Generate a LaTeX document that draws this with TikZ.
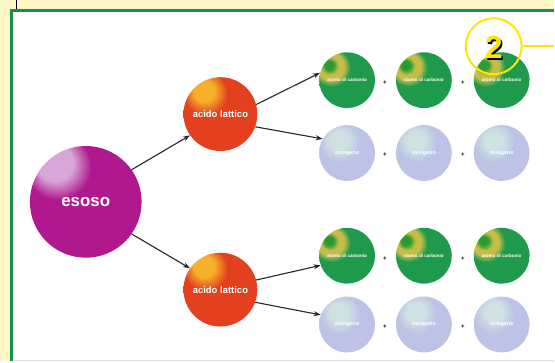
\documentclass[tikz,border=0pt]{standalone}
\usepackage{fontspec}
\setmainfont{Liberation Sans}
\usetikzlibrary{arrows.meta}
\definecolor{paper}{HTML}{FFF8C6}
\definecolor{framegreen}{HTML}{16904A}
\definecolor{hexose}{HTML}{B0188E}
\definecolor{hexhi}{HTML}{D9A6D8}
\definecolor{hexdark}{HTML}{980F7A}
\definecolor{lactic}{HTML}{E2401E}
\definecolor{lactichi}{HTML}{F6B02C}
\definecolor{lacticdark}{HTML}{CC321A}
\definecolor{carbon}{HTML}{1F9A4C}
\definecolor{carbonhi}{HTML}{C4BE48}
\definecolor{carbonspot}{HTML}{2C9A30}
\definecolor{carbondark}{HTML}{1A8C46}
\definecolor{oxygen}{HTML}{BCC3E6}
\definecolor{oxygenhi}{HTML}{CFE2E2}
\definecolor{oxygendark}{HTML}{A4AAD2}
\definecolor{callout}{HTML}{FFE600}
% sphere shadings with the light spot up and to the left
\pgfdeclareradialshading{hexball}{\pgfpoint{-15bp}{19bp}}{%
  color(0bp)=(hexhi); color(8bp)=(hexhi); color(15bp)=(hexose);
  color(50bp)=(hexose); color(66bp)=(hexdark); color(90bp)=(hexdark)}
\pgfdeclareradialshading{lacball}{\pgfpoint{-12bp}{17bp}}{%
  color(0bp)=(lactichi); color(7bp)=(lactichi); color(15bp)=(lactic);
  color(50bp)=(lactic); color(66bp)=(lacticdark); color(90bp)=(lacticdark)}
\pgfdeclareradialshading{carball}{\pgfpoint{-17bp}{14bp}}{%
  color(0bp)=(carbonspot); color(4bp)=(carbonspot); color(8bp)=(carbonhi);
  color(12bp)=(carbonhi); color(17bp)=(carbon); color(54bp)=(carbon);
  color(66bp)=(carbondark); color(90bp)=(carbondark)}
\pgfdeclareradialshading{oxyball}{\pgfpoint{-8bp}{12bp}}{%
  color(0bp)=(oxygenhi); color(8bp)=(oxygenhi); color(18bp)=(oxygen);
  color(48bp)=(oxygen); color(64bp)=(oxygendark); color(90bp)=(oxygendark)}
\tikzset{
  x=1pt, y=-1pt,
  ballnode/.style={circle, inner sep=0pt, minimum size=#1, text=white, font=\bfseries},
  bigball/.style={ballnode=112pt, shading=hexball, font=\bfseries\fontsize{17}{17}\selectfont},
  midball/.style={ballnode=74pt, shading=lacball, font=\bfseries\fontsize{9.5}{10}\selectfont},
  cball/.style={ballnode=56pt, shading=carball, font=\bfseries\fontsize{4.6}{5}\selectfont},
  oball/.style={ballnode=56pt, shading=oxyball, font=\bfseries\fontsize{5.5}{6}\selectfont},
  plus/.style={font=\bfseries\fontsize{6}{6}\selectfont, inner sep=0pt},
  reaction/.style={-{Stealth[length=7pt,width=5pt]}, line width=1.1pt, black!85},
}
\begin{document}
\begin{tikzpicture}
% page and frame
\fill[paper] (0,0) rectangle (555,362);
\fill[white] (12,10) rectangle (555,362);
\draw[framegreen, line width=3pt] (12,362) -- (12,10) -- (555,10);
\draw[black, line width=0.8pt] (16,0) -- (16,9);
\draw[gray!25, line width=1pt] (14,361.5) -- (555,361.5);

% molecules
\node[bigball] (esoso) at (86,202) {esoso};
\node[midball] (lat1) at (221,114) {acido lattico};
\node[midball] (lat2) at (221,290) {acido lattico};

\foreach \r/\y in {a/80, b/256} {
  \node[cball] (c\r1) at (348,\y) {\raisebox{-2pt}{atomo di carbonio}};
  \node[cball] (c\r2) at (425,\y) {\raisebox{-2pt}{atomo di carbonio}};
  \node[cball] (c\r3) at (503,\y) {\raisebox{-2pt}{atomo di carbonio}};
  \node[plus] (pc\r1) at (386,\y+3) {+};
  \node[plus] (pc\r2) at (464,\y+3) {+};
}
\foreach \r/\y in {a/153, b/325} {
  \node[oball] (o\r1) at (348,\y) {ossigeno};
  \node[oball] (o\r2) at (425,\y) {ossigeno};
  \node[oball] (o\r3) at (503,\y) {ossigeno};
  \node[plus] (po\r1) at (386,\y+2) {+};
  \node[plus] (po\r2) at (464,\y+2) {+};
}

% reactions
\draw[reaction] (esoso.35) -- (lat1.215);
\draw[reaction] (esoso.-35) -- (lat2.145);
\draw[reaction] (lat1.15) -- (ca1.165);
\draw[reaction] (lat1.-20) -- (oa1.150);
\draw[reaction] (lat2.15) -- (cb1.200);
\draw[reaction] (lat2.-20) -- (ob1.160);

% callout with a shadowed numeral
\node[circle, draw=callout, line width=2pt, minimum size=56pt, inner sep=0pt] (mark) at (495,46) {};
\coordinate (markend) at (555,46);
\draw[callout, line width=2pt] (mark.east) -- (markend);
\node[font=\bfseries\fontsize{32}{32}\selectfont, inner sep=0pt] (num) at (495,48)
  {\makebox[0pt][l]{\hspace{1.6pt}\raisebox{-1.6pt}{\textcolor{black}{2}}}\textcolor{callout}{2}};
\end{tikzpicture}
\end{document}
